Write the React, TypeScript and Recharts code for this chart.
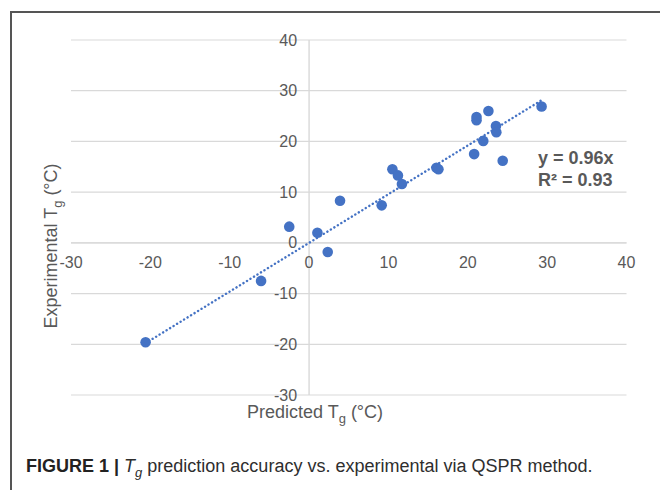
import React from 'react';
import {
  ScatterChart,
  Scatter,
  XAxis,
  YAxis,
  CartesianGrid,
  ReferenceLine,
} from 'recharts';

// predicted Tg (x) vs experimental Tg (y), °C
const predicted = [-20.6, -6.05, -2.5, 1.05, 2.35, 3.9, 9.15, 10.5, 11.2, 11.7, 16.05, 16.3, 20.8, 21.1, 21.1, 22.6, 21.95, 23.55, 23.6, 24.4, 29.3];
const experimental = [-19.6, -7.5, 3.2, 2.0, -1.8, 8.3, 7.4, 14.5, 13.3, 11.6, 14.8, 14.5, 17.5, 24.8, 24.2, 26.0, 20.1, 23.05, 21.8, 16.2, 26.9];

const X_TICKS = [-30, -20, -10, 0, 10, 20, 30, 40];
const Y_TICKS = [-30, -20, -10, 0, 10, 20, 30, 40];

// linear fit through the origin, as printed on the chart
const SLOPE = 0.96;
const R2 = 0.93;

const W = 660;
const H = 490;
const Y_AXIS_W = 60;
const X_AXIS_H = 30;
// plot area: x 71..626.5, y 40..395
const PLOT = { top: 40, right: 33.5, bottom: 95, left: 71 };
const MARGIN = { top: PLOT.top, right: PLOT.right, bottom: PLOT.bottom - X_AXIS_H, left: PLOT.left - Y_AXIS_W };
const X_DOMAIN: [number, number] = [-30, 40];
const Y_DOMAIN: [number, number] = [-30, 40];

const BLUE = '#4472C4';
const GREY_TEXT = '#595959';
const GRID = '#d9d9d9';
const FONT = '"Liberation Sans", Arial, sans-serif';

const points = predicted.map((x, i) => ({ x, y: experimental[i] }));
const xMin = Math.min(...predicted);
const xMax = Math.max(...predicted);
const trend = [
  { x: xMin, y: SLOPE * xMin },
  { x: xMax, y: SLOPE * xMax },
];

// where the axes cross (0, 0) inside the plot area
const plotW = W - PLOT.left - PLOT.right;
const plotH = H - PLOT.top - PLOT.bottom;
const zeroX = PLOT.left + ((0 - X_DOMAIN[0]) / (X_DOMAIN[1] - X_DOMAIN[0])) * plotW;
const zeroY = PLOT.top + ((Y_DOMAIN[1] - 0) / (Y_DOMAIN[1] - Y_DOMAIN[0])) * plotH;

const renderXTick = (props: any) => (
  <text
    key={`xt-${props.payload.value}`}
    x={props.x}
    y={zeroY + 20}
    textAnchor="middle"
    dominantBaseline="central"
    fill={GREY_TEXT}
    fontSize={16}
    fontFamily={FONT}
  >
    {props.payload.value}
  </text>
);

const renderYTick = (props: any) => (
  <text
    key={`yt-${props.payload.value}`}
    x={zeroX - 12}
    y={props.y}
    textAnchor="end"
    dominantBaseline="central"
    fill={GREY_TEXT}
    fontSize={16}
    fontFamily={FONT}
  >
    {props.payload.value}
  </text>
);

const Dot = (props: any) => <circle cx={props.cx} cy={props.cy} r={5.3} fill={BLUE} />;

const NoShape = () => <g />;

export default function App() {
  return (
    <div style={{ position: 'absolute', left: 0, top: 0, width: W, height: H, background: '#fff' }}>
      {/* figure frame */}
      <div style={{ position: 'absolute', left: 10, top: 11, width: W - 10, height: H - 11, borderLeft: '2px solid #555', borderTop: '2px solid #555' }} />

      <div style={{ position: 'absolute', left: 0, top: 0 }}>
        <ScatterChart width={W} height={H} margin={MARGIN}>
          <CartesianGrid vertical={false} stroke={GRID} strokeWidth={1.2} />
          <XAxis
            type="number"
            dataKey="x"
            domain={X_DOMAIN}
            ticks={X_TICKS}
            height={X_AXIS_H}
            interval={0}
            axisLine={false}
            tickLine={false}
            tick={renderXTick}
            allowDataOverflow
          />
          <YAxis
            type="number"
            dataKey="y"
            domain={Y_DOMAIN}
            ticks={Y_TICKS}
            width={Y_AXIS_W}
            interval={0}
            axisLine={false}
            tickLine={false}
            tick={renderYTick}
            allowDataOverflow
          />
          <ReferenceLine x={0} stroke={GRID} strokeWidth={1.4} />
          <ReferenceLine y={0} stroke={GRID} strokeWidth={1.4} />
          <Scatter data={points} fill={BLUE} shape={<Dot />} isAnimationActive={false} />
          <Scatter
            data={trend}
            line={{ stroke: BLUE, strokeWidth: 2.4, strokeDasharray: '0.1 4', strokeLinecap: 'round' }}
            shape={<NoShape />}
            isAnimationActive={false}
          />
        </ScatterChart>
      </div>

      {/* axis titles and fit equation */}
      <svg width={W} height={H} style={{ position: 'absolute', left: 0, top: 0, pointerEvents: 'none' }}>
        <text x={315} y={418} textAnchor="middle" fill={GREY_TEXT} fontSize={18} fontFamily={FONT}>
          Predicted T<tspan dy={5} fontSize={13}>g</tspan>
          <tspan dy={-5}> (°C)</tspan>
        </text>
        <text
          transform="translate(57, 246) rotate(-90)"
          textAnchor="middle"
          fill={GREY_TEXT}
          fontSize={18}
          fontFamily={FONT}
        >
          Experimental T<tspan dy={5} fontSize={13}>g</tspan>
          <tspan dy={-5}> (°C)</tspan>
        </text>
        <text x={538} y={164} fill={GREY_TEXT} fontSize={18} fontWeight="bold" fontFamily={FONT}>
          {`y = ${SLOPE}x`}
        </text>
        <text x={538} y={186} fill={GREY_TEXT} fontSize={18} fontWeight="bold" fontFamily={FONT}>
          {`R² = ${R2}`}
        </text>
      </svg>

      <div
        style={{
          position: 'absolute',
          left: 26,
          top: 456,
          fontFamily: FONT,
          fontSize: 18,
          color: '#2e2e2e',
          whiteSpace: 'nowrap',
        }}
      >
        <b style={{ color: '#222' }}>FIGURE 1 |</b> <i>T<sub style={{ fontSize: 13 }}>g</sub></i> prediction accuracy vs. experimental via QSPR method.
      </div>
    </div>
  );
}
